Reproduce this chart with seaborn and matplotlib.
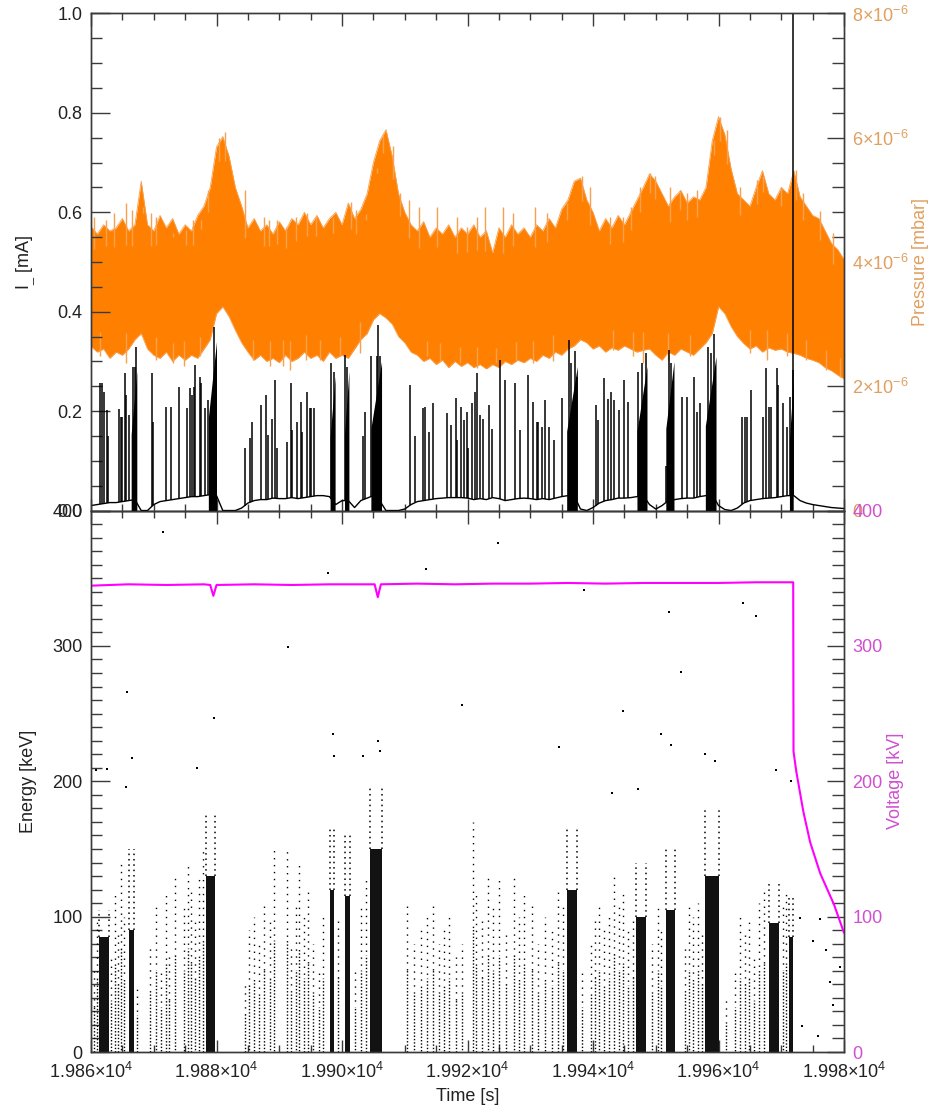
import numpy as np
import pandas as pd
import matplotlib
matplotlib.use("Agg")
import matplotlib.pyplot as plt
import seaborn as sns
from matplotlib.ticker import MultipleLocator, FuncFormatter

# ---------------- data ----------------
t_grid = np.arange(19860, 19981)  # 1-s sampling grid for envelopes / baseline

# pressure band envelopes (x1e-6 mbar)
pressure_upper = [
    4.57, 4.45, 4.60, 4.50, 4.55, 4.70, 4.50, 4.60, 5.30, 4.60,
    4.50, 4.75, 4.55, 4.70, 4.45, 4.60, 4.50, 4.75, 4.90, 5.20,
    5.85, 6.02, 5.70, 5.20, 4.90, 4.55, 4.70, 4.50, 4.60, 4.45,
    4.65, 4.50, 4.70, 4.60, 4.80, 4.60, 4.75, 4.55, 4.70, 4.80,
    4.60, 4.95, 4.70, 4.85, 5.10, 5.60, 5.95, 6.13, 5.70, 5.10,
    4.80, 4.60, 4.50, 4.65, 4.40, 4.55, 4.45, 4.60, 4.40, 4.55,
    4.45, 4.60, 4.40, 4.50, 4.15, 4.55, 4.40, 4.60, 4.45, 4.55,
    4.40, 4.60, 4.50, 4.70, 4.55, 4.85, 5.00, 5.30, 5.35, 5.00,
    4.80, 4.50, 4.70, 4.55, 4.75, 4.60, 4.80, 5.00, 5.20, 5.42,
    5.30, 5.10, 4.90, 5.05, 5.15, 4.95, 5.05, 5.00, 5.20, 5.95,
    6.34, 6.05, 5.50, 5.10, 5.00, 4.90, 5.20, 5.47, 5.10, 5.00,
    5.20, 5.10, 5.47, 5.05, 4.90, 4.75, 4.70, 4.50, 4.30, 4.20,
    4.04]
pressure_lower = [
    2.64, 2.55, 2.60, 2.45, 2.55, 2.50, 2.60, 2.75, 2.85, 2.60,
    2.50, 2.45, 2.55, 2.40, 2.50, 2.42, 2.50, 2.45, 2.60, 2.75,
    3.17, 3.28, 3.12, 2.90, 2.70, 2.55, 2.42, 2.50, 2.40, 2.45,
    2.38, 2.50, 2.40, 2.45, 2.55, 2.45, 2.50, 2.40, 2.55, 2.45,
    2.50, 2.45, 2.60, 2.75, 2.85, 3.07, 3.17, 3.10, 3.00, 2.80,
    2.70, 2.55, 2.50, 2.40, 2.45, 2.35, 2.42, 2.30, 2.40, 2.32,
    2.38, 2.30, 2.35, 2.28, 2.35, 2.30, 2.40, 2.35, 2.42, 2.38,
    2.45, 2.40, 2.50, 2.45, 2.55, 2.50, 2.60, 2.65, 2.75, 2.70,
    2.60, 2.65, 2.55, 2.62, 2.58, 2.65, 2.60, 2.55, 2.58, 2.60,
    2.50, 2.42, 2.55, 2.50, 2.60, 2.55, 2.50, 2.60, 2.70, 2.85,
    3.28, 3.17, 2.96, 2.80, 2.69, 2.60, 2.65, 2.55, 2.62, 2.58,
    2.60, 2.55, 2.53, 2.50, 2.45, 2.42, 2.38, 2.30, 2.25, 2.18,
    2.12]

# thin pressure excursions poking out of the band (time, x1e-6 mbar)
pup_t = [19860.5, 19862.4, 19863.7, 19865.6, 19866.6, 19868.3, 19869.5, 19870.3, 19873.0,
         19875.2, 19876.3, 19877.5, 19878.7, 19880.4, 19881.3, 19884.6, 19887.5, 19888.3,
         19889.7, 19891.1, 19892.6, 19894.4, 19895.8, 19898.6, 19901.5, 19902.3, 19903.9,
         19905.6, 19906.6, 19908.1, 19909.2, 19910.6, 19912.2, 19915.1, 19918.3, 19919.9,
         19921.5, 19922.8, 19925.7, 19927.3, 19930.7, 19932.6, 19935.8, 19938.2, 19939.5,
         19942.7, 19944.8, 19946.1, 19947.5, 19949.1, 19949.9, 19952.3, 19953.9, 19954.9,
         19956.5, 19959.2, 19960.3, 19961.3, 19963.4, 19966.1, 19967.1, 19970.0, 19972.4,
         19973.5, 19976.2, 19978.3]
pup_v = [4.73, 4.68, 4.79, 4.95, 4.84, 4.89, 4.79, 4.73, 4.46,
         4.52, 4.68, 4.68, 5.16, 6.00, 6.10, 5.16, 4.73, 4.68,
         4.68, 4.57, 4.73, 4.79, 4.73, 4.73, 4.97, 4.84, 4.68,
         5.43, 6.05, 5.86, 5.11, 5.00, 4.89, 4.89, 4.73, 4.57,
         4.73, 4.89, 4.89, 4.79, 4.89, 4.79, 4.95, 5.38, 5.21,
         4.73, 4.73, 4.89, 5.21, 5.43, 5.38, 5.21, 5.16, 5.11,
         5.16, 5.97, 6.34, 6.13, 5.21, 5.32, 5.38, 5.21, 5.48,
         5.11, 4.82, 4.46]
plo_t = [19861.4, 19865.6, 19870.3, 19873.0, 19874.9, 19877.3, 19885.8, 19888.5, 19890.6,
         19891.7, 19894.3, 19896.5, 19899.7, 19902.9, 19913.5, 19915.6, 19918.8, 19921.5,
         19924.6, 19927.8, 19930.5, 19933.7, 19943.2, 19946.4, 19948.0, 19952.0, 19955.4,
         19965.0, 19967.7, 19970.9, 19974.0, 19977.2, 19979.4]
plo_v = [2.48, 2.37, 2.42, 2.37, 2.32, 2.48, 2.42, 2.32, 2.32,
         2.26, 2.42, 2.42, 2.48, 2.53, 2.48, 2.40, 2.37, 2.29,
         2.37, 2.42, 2.37, 2.40, 2.58, 2.48, 2.37, 2.42, 2.48,
         2.53, 2.42, 2.48, 2.42, 2.26, 2.15]

# current baseline (mA)
current_base = [
    .010, .012, .014, .016, .016, .018, .020, .022, .000, .000,
    .012, .018, .020, .022, .024, .026, .028, .028, .030, .032,
    .030, .000, .000, .000, .005, .015, .020, .022, .022, .025,
    .024, .024, .026, .024, .026, .028, .030, .030, .028, .012,
    .020, .020, .006, .020, .025, .030, .020, .000, .000, .000,
    .003, .012, .018, .020, .022, .024, .025, .026, .026, .026,
    .025, .022, .024, .022, .026, .024, .020, .022, .024, .025,
    .024, .022, .024, .022, .025, .028, .030, .030, .003, .000,
    .006, .015, .020, .022, .025, .025, .026, .028, .030, .012,
    .003, .010, .020, .022, .024, .025, .025, .028, .030, .032,
    .010, .002, .000, .005, .015, .020, .022, .024, .025, .026,
    .028, .030, .030, .020, .015, .012, .010, .008, .006, .005,
    .004]

# current spikes (time [s], peak [mA])
spike_t = [19861.4, 19861.75, 19862.1, 19862.5, 19862.7, 19864.4, 19864.8, 19865.0,
           19865.4, 19865.55, 19866.0, 19866.7, 19866.95, 19867.2, 19869.8, 19869.95,
           19872.0, 19872.7, 19874.0, 19875.3, 19875.7, 19876.1, 19876.4, 19876.6,
           19877.3, 19877.6, 19878.2, 19878.6, 19879.6, 19884.5, 19885.3, 19885.7,
           19887.1, 19887.9, 19888.2, 19888.8, 19889.4, 19889.6, 19891.3, 19891.8,
           19892.0, 19892.9, 19893.4, 19893.6, 19894.5, 19894.85, 19895.1, 19895.5,
           19898.3, 19898.7, 19900.5, 19900.8, 19903.3, 19903.7, 19904.6, 19905.5,
           19905.8, 19906.1, 19910.8, 19911.7, 19912.9, 19913.3, 19913.9, 19914.5,
           19916.8, 19917.4, 19918.1, 19918.4, 19919.0, 19919.5, 19919.9, 19920.1,
           19920.7, 19921.2, 19921.5, 19922.0, 19922.4, 19923.4, 19923.85, 19925.1,
           19925.9, 19927.6, 19928.3, 19929.6, 19930.5, 19931.0, 19931.3, 19931.9,
           19932.4, 19933.0, 19933.8, 19935.0, 19936.1, 19936.5, 19937.1, 19937.4,
           19940.4, 19940.85, 19941.8, 19942.4, 19942.9, 19943.35, 19944.1, 19945.0,
           19945.5, 19947.1, 19947.8, 19948.4, 19951.7, 19952.1, 19952.5, 19954.1,
           19954.9, 19956.1, 19956.5, 19957.0, 19958.4, 19958.8, 19959.3, 19963.8,
           19964.2, 19964.6, 19965.1, 19967.1, 19967.6, 19968.0, 19968.4, 19969.3,
           19969.55, 19970.3, 19970.85, 19971.4, 19971.8, 19971.9]
spike_h = [.256, .256, .239, .202, .149, .204, .189, .189,
           .276, .232, .192, .289, .289, .330, .276, .179,
           .209, .209, .249, .206, .246, .232, .249, .293,
           .269, .256, .206, .222, .370, .125, .145, .179,
           .212, .232, .152, .185, .263, .125, .138, .256,
           .162, .179, .219, .159, .239, .206, .206, .206,
           .296, .279, .313, .289, .149, .199, .310, .310,
           .373, .310, .253, .149, .206, .209, .159, .216,
           .197, .172, .226, .142, .209, .182, .199, .125,
           .216, .239, .276, .192, .185, .212, .165, .303,
           .263, .256, .162, .273, .219, .179, .179, .169,
           .222, .169, .142, .226, .343, .296, .320, .269,
           .212, .182, .266, .224, .239, .222, .202, .263,
           .219, .279, .296, .316, .090, .323, .296, .229,
           .229, .269, .199, .216, .330, .316, .356, .189,
           .189, .189, .242, .189, .286, .209, .209, .286,
           .253, .216, .169, .229, .283, 1.0]

# dense current bursts (start, end, top mA)
iburst_start = [19866.4, 19878.7, 19898.1, 19900.4, 19904.6, 19935.8, 19947.0, 19951.6, 19957.9, 19971.3]
iburst_end   = [19867.3, 19880.0, 19898.9, 19901.1, 19906.3, 19937.5, 19948.6, 19952.9, 19959.6, 19971.9]
iburst_top   = [0.28, 0.34, 0.27, 0.28, 0.30, 0.29, 0.29, 0.30, 0.31, 0.26]

# high voltage (kV)
volt_t = [19860, 19866, 19872, 19878, 19879.0, 19879.5, 19880.0, 19886, 19892, 19898,
          19904, 19905.2, 19905.7, 19906.2, 19912, 19918, 19924, 19930, 19936, 19942,
          19948, 19954, 19960, 19966, 19971.9, 19971.95, 19972.4, 19973.5, 19974.6,
          19976.2, 19978.4, 19980]
volt_v = [344.5, 345.5, 345, 345.5, 345, 337, 345, 345.5, 345, 345.5,
          345.5, 345.5, 336, 345.5, 346, 345.5, 346, 346, 346.5, 346,
          346.5, 346.5, 346.5, 347, 347, 222, 207, 178, 155,
          132, 109, 88]

# energy deposits: dense bursts (start, end, dense top, sparse top) in keV
eburst_start = [19861.2, 19866.0, 19878.4, 19898.1, 19900.5, 19904.5, 19935.8, 19946.9, 19951.6, 19957.9, 19968.1, 19971.2]
eburst_end   = [19862.8, 19866.9, 19879.8, 19898.8, 19901.2, 19906.3, 19937.4, 19948.5, 19953.0, 19960.0, 19969.7, 19971.9]
eburst_core  = [85, 90, 130, 120, 115, 150, 120, 100, 105, 130, 95, 85]
eburst_top   = [105, 150, 175, 165, 160, 195, 165, 140, 150, 180, 125, 115]

# sparse event columns (time, highest energy) in keV
col_t = [19860.5, 19860.9, 19863.2, 19863.8, 19864.3, 19864.8, 19865.3, 19867.3, 19869.4,
         19870.3, 19871.2, 19871.9, 19872.5, 19873.4, 19874.8, 19875.4, 19876.0, 19876.6,
         19877.2, 19877.8, 19884.5, 19885.2, 19886.0, 19886.8, 19887.6, 19888.5, 19889.2,
         19891.3, 19891.8, 19892.6, 19893.2, 19894.0, 19894.6, 19895.3, 19896.3, 19897.0,
         19899.3, 19902.0, 19903.0, 19903.8, 19910.4, 19911.5, 19912.6, 19913.5, 19914.5,
         19915.4, 19916.2, 19917.0, 19918.2, 19919.2, 19920.8, 19921.4, 19922.3, 19923.2,
         19924.0, 19925.0, 19926.2, 19927.4, 19928.2, 19929.0, 19930.3, 19931.3, 19932.3,
         19933.4, 19934.4, 19935.2, 19938.3, 19939.6, 19940.3, 19941.0, 19941.8, 19942.6,
         19943.4, 19944.1, 19944.8, 19945.5, 19946.3, 19949.4, 19950.3, 19950.9, 19954.6,
         19955.3, 19956.0, 19956.7, 19957.3, 19961.2, 19962.6, 19963.5, 19964.2, 19964.9,
         19965.6, 19966.5, 19967.2, 19970.2, 19970.7]
col_top = [60, 100, 70, 120, 90, 140, 100, 50, 80,
           110, 60, 120, 70, 130, 110, 140, 120, 100,
           130, 150, 50, 90, 100, 80, 110, 100, 150,
           150, 80, 110, 140, 100, 120, 80, 60, 100,
           100, 60, 110, 130, 110, 80, 90, 100, 110,
           80, 90, 100, 70, 80, 170, 120, 100, 130,
           110, 130, 90, 130, 100, 120, 110, 80, 100,
           90, 120, 110, 60, 80, 100, 110, 90, 100,
           130, 110, 120, 90, 100, 80, 110, 90, 80,
           110, 100, 110, 90, 40, 60, 100, 90, 100,
           70, 110, 120, 110, 120]

# isolated high-energy events (time, keV)
iso_t = [19871.5, 19891.4, 19865.7, 19866.6, 19865.6, 19862.6, 19879.6, 19876.9, 19860.8,
         19924.9, 19913.4, 19897.8, 19919.2, 19898.6, 19898.8, 19903.4, 19905.8, 19906.1,
         19934.5, 19938.5, 19963.9, 19966.0, 19952.1, 19954.0, 19944.7, 19950.8, 19952.4,
         19957.8, 19959.4, 19969.1, 19971.6, 19947.2, 19943.1, 19973.0, 19976.2, 19975.1,
         19977.2, 19977.8, 19975.9, 19978.3, 19973.3, 19979.3]
iso_e = [384, 299, 266, 217, 196, 209, 247, 210, 208,
         376, 357, 354, 256, 235, 219, 219, 230, 222,
         225, 341, 332, 322, 325, 281, 252, 235, 227,
         220, 215, 208, 200, 194, 191, 99, 98, 82,
         75, 52, 12, 35, 19, 63]

# ---------------- style ----------------
sns.set_style("ticks")
plt.rcParams['font.family'] = ['Liberation Sans', 'DejaVu Sans']
plt.rcParams['mathtext.fontset'] = 'custom'
plt.rcParams['mathtext.rm'] = 'Liberation Sans'
plt.rcParams['mathtext.it'] = 'Liberation Sans:italic'
plt.rcParams['mathtext.bf'] = 'Liberation Sans:bold'

FS = 13
AX_COL = '#3a3a3a'
ORANGE = '#FF8000'
ORANGE_EDGE = '#F7A050'
ORANGE_TXT = '#E0A060'
MAGENTA = '#FF00FF'
MAGENTA_TXT = '#D050D0'

fig = plt.figure(figsize=(9.42, 11.06), dpi=100)
ax_top = fig.add_axes([0.0966, 0.5384, 0.7994, 0.4494])
ax_bot = fig.add_axes([0.0966, 0.0488, 0.7994, 0.4896])
ax_p = ax_top.twinx()
ax_v = ax_bot.twinx()

# ---- top panel: pressure band (behind) ----
pdf = pd.DataFrame({'t': t_grid, 'up': np.array(pressure_upper) * 1e-6,
                    'lo': np.array(pressure_lower) * 1e-6})
ax_p.fill_between(pdf['t'], pdf['lo'], pdf['up'], color=ORANGE, lw=0)
sns.lineplot(data=pdf, x='t', y='up', ax=ax_p, color=ORANGE_EDGE, lw=0.6)
sns.lineplot(data=pdf, x='t', y='lo', ax=ax_p, color=ORANGE_EDGE, lw=0.6)
up_base = np.interp(pup_t, t_grid, pressure_upper) * 1e-6 - 0.3e-6
ax_p.vlines(pup_t, up_base, np.array(pup_v) * 1e-6, colors=ORANGE_EDGE, lw=1.0)
lo_base = np.interp(plo_t, t_grid, pressure_lower) * 1e-6 + 0.3e-6
ax_p.vlines(plo_t, np.array(plo_v) * 1e-6, lo_base, colors=ORANGE_EDGE, lw=1.0)
ax_p.set_ylim(0, 8e-6)

# ---- top panel: current (in front) ----
ax_top.set_zorder(ax_p.get_zorder() + 1)
ax_top.patch.set_visible(False)
cdf = pd.DataFrame({'t': t_grid, 'I': current_base})
sns.lineplot(data=cdf, x='t', y='I', ax=ax_top, color='black', lw=1.0)
base_at_spike = np.interp(spike_t, t_grid, current_base)
ax_top.vlines(spike_t, base_at_spike, spike_h, colors='black', lw=1.1)
for s, e, h in zip(iburst_start, iburst_end, iburst_top):
    ax_top.fill_between([s, e], [0.0, 0.0], [h * 0.55, h], color='black', lw=0)

# ---- bottom panel: energy events ----
widths = np.array(eburst_end) - np.array(eburst_start)
ax_bot.bar(eburst_start, eburst_core, width=widths, align='edge',
           color='#121212', lw=0)
fringe_x = list(eburst_start) + list(eburst_end)
fringe_lo = list(eburst_core) * 2
fringe_hi = list(eburst_top) * 2
ax_bot.vlines(fringe_x, fringe_lo, fringe_hi, colors='black', lw=1.1,
              linestyles=(0, (1, 2.5)))
col_top_a = np.array(col_top)
offsets = [(k % 4) * 0.8 for k in range(len(col_t))]
ax_bot.vlines(col_t, 0, col_top_a * 0.55, colors='black', lw=1.0,
              linestyles=[(o, (1, 1.4)) for o in offsets])
ax_bot.vlines(col_t, col_top_a * 0.55, col_top_a, colors='black', lw=1.0,
              linestyles=[(o, (1, 4.0)) for o in offsets])
edf = pd.DataFrame({'t': iso_t, 'E': iso_e})
sns.scatterplot(data=edf, x='t', y='E', ax=ax_bot, color='black', s=3, marker='s',
                linewidth=0)
ax_bot.set_ylim(0, 400)

# ---- bottom panel: voltage ----
vdf = pd.DataFrame({'t': volt_t, 'V': volt_v})
sns.lineplot(data=vdf, x='t', y='V', ax=ax_v, color=MAGENTA, lw=1.5)
ax_v.set_ylim(0, 400)

# ---------------- axes cosmetics ----------------
for ax in (ax_top, ax_bot, ax_p, ax_v):
    ax.set_xlim(19860, 19980)
    for sp in ax.spines.values():
        sp.set_color(AX_COL)
        sp.set_linewidth(1.0)
    ax.set_xlabel('')
    ax.set_ylabel('')

for ax in (ax_top, ax_bot):
    ax.xaxis.set_major_locator(MultipleLocator(20))
    ax.xaxis.set_minor_locator(MultipleLocator(5))
    ax.tick_params(axis='x', which='both', direction='in', top=True, bottom=True,
                   color=AX_COL, width=1.0)
    ax.tick_params(axis='x', which='major', length=9)
    ax.tick_params(axis='x', which='minor', length=5)
    ax.tick_params(axis='y', which='both', direction='in', left=True, right=False,
                   color=AX_COL, width=1.0, labelsize=FS, labelcolor='#222222', pad=6)
    ax.tick_params(axis='y', which='major', length=14)
    ax.tick_params(axis='y', which='minor', length=8)

ax_top.tick_params(axis='x', which='both', labelbottom=False)
ax_bot.tick_params(axis='x', which='major', labelsize=FS, labelcolor='#222222', pad=7)
ax_bot.xaxis.set_major_formatter(FuncFormatter(lambda v, p: f"{v/1e4:.3f}×10$^{{4}}$"))

ax_top.set_ylim(0, 1.0)
ax_top.yaxis.set_major_locator(MultipleLocator(0.2))
ax_top.yaxis.set_minor_locator(MultipleLocator(0.05))
ax_top.yaxis.set_major_formatter(FuncFormatter(lambda v, p: f"{v:.1f}"))
ax_bot.yaxis.set_major_locator(MultipleLocator(100))
ax_bot.yaxis.set_minor_locator(MultipleLocator(10))
ax_bot.yaxis.set_major_formatter(FuncFormatter(lambda v, p: f"{v:.0f}"))


def pfmt(v, p):
    m = int(round(v * 1e6))
    return "0" if m == 0 else f"{m}×10$^{{-6}}$"


ax_p.yaxis.set_major_locator(MultipleLocator(2e-6))
ax_p.yaxis.set_minor_locator(MultipleLocator(0.4e-6))
ax_p.yaxis.set_major_formatter(FuncFormatter(pfmt))
ax_v.yaxis.set_major_locator(MultipleLocator(100))
ax_v.yaxis.set_minor_locator(MultipleLocator(10))
ax_v.yaxis.set_major_formatter(FuncFormatter(lambda v, p: f"{v:.0f}"))

for ax, col in ((ax_p, ORANGE_TXT), (ax_v, MAGENTA_TXT)):
    ax.tick_params(axis='y', which='both', direction='in', right=True, left=False,
                   color=AX_COL, width=1.0, labelsize=FS, labelcolor=col, pad=6)
    ax.tick_params(axis='y', which='major', length=12)
    ax.tick_params(axis='y', which='minor', length=9)
    ax.tick_params(axis='x', which='both', top=False, bottom=False,
                   labelbottom=False, labeltop=False)

ax_top.set_ylabel('I$_{\\_}$ [mA]', fontsize=FS, color='#222222')
ax_top.yaxis.set_label_coords(-0.072, 0.5)
ax_bot.set_ylabel('Energy [keV]', fontsize=FS, color='#222222')
ax_bot.yaxis.set_label_coords(-0.072, 0.5)
ax_bot.set_xlabel('Time [s]', fontsize=FS, color='#222222', va='center')
ax_bot.xaxis.set_label_coords(0.5, -0.083)
ax_p.set_ylabel('Pressure [mbar]', fontsize=FS, color=ORANGE_TXT, va='center')
ax_p.yaxis.set_label_coords(1.101, 0.5)
ax_v.set_ylabel('Voltage [kV]', fontsize=FS, color=MAGENTA_TXT, va='center')
ax_v.yaxis.set_label_coords(1.069, 0.5)

fig.savefig('out.png', dpi=100)
